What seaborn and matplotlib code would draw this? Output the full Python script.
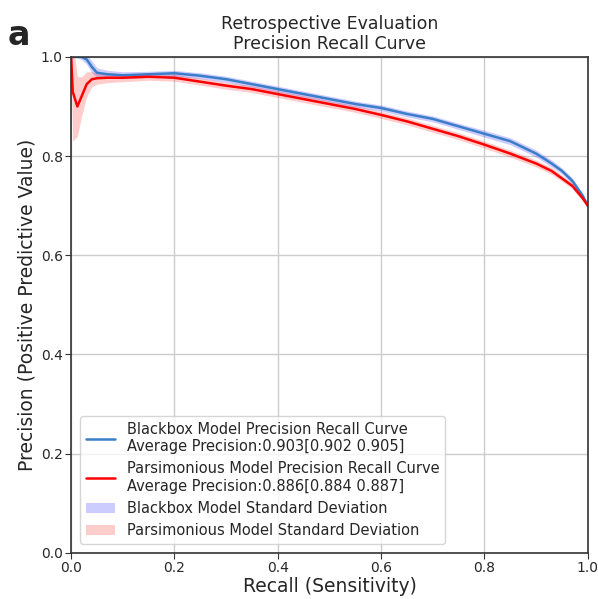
import numpy as np
import pandas as pd
import matplotlib
matplotlib.use('Agg')
import matplotlib.pyplot as plt
import seaborn as sns

# recall grid
recall = [0.0, 0.003, 0.012, 0.02, 0.03, 0.04, 0.05, 0.07, 0.1, 0.15, 0.2, 0.25, 0.3, 0.35,
          0.4, 0.45, 0.5, 0.55, 0.6, 0.65, 0.7, 0.75, 0.8, 0.85, 0.9, 0.93, 0.95, 0.97, 0.99, 1.0]
# blackbox model mean precision and std
blackbox = [1.0, 1.0, 1.0, 1.0, 0.995, 0.98, 0.968, 0.965, 0.963, 0.965, 0.967, 0.962, 0.955, 0.945,
            0.935, 0.925, 0.915, 0.905, 0.897, 0.885, 0.875, 0.86, 0.845, 0.83, 0.805, 0.785, 0.77, 0.75, 0.72, 0.70]
blackbox_sd = [0.0, 0.0, 0.002, 0.005, 0.01, 0.012, 0.01, 0.008, 0.007, 0.006, 0.006, 0.006, 0.006, 0.006,
               0.006, 0.006, 0.006, 0.006, 0.006, 0.006, 0.006, 0.006, 0.007, 0.007, 0.007, 0.007, 0.006, 0.006, 0.005, 0.004]
# parsimonious model mean precision and std
parsimonious = [1.0, 0.93, 0.9, 0.92, 0.945, 0.955, 0.957, 0.958, 0.958, 0.96, 0.958, 0.95, 0.942, 0.935,
                0.925, 0.915, 0.905, 0.895, 0.883, 0.87, 0.855, 0.84, 0.823, 0.805, 0.785, 0.77, 0.755, 0.74, 0.715, 0.70]
parsimonious_sd = [0.0, 0.1, 0.06, 0.04, 0.025, 0.015, 0.012, 0.01, 0.008, 0.007, 0.007, 0.007, 0.007, 0.007,
                   0.007, 0.007, 0.007, 0.007, 0.007, 0.007, 0.007, 0.007, 0.007, 0.007, 0.007, 0.007, 0.006, 0.006, 0.005, 0.004]

labels = ['Blackbox Model Precision Recall Curve\nAverage Precision:0.903[0.902 0.905]',
          'Parsimonious Model Precision Recall Curve\nAverage Precision:0.886[0.884 0.887]',
          'Blackbox Model Standard Deviation',
          'Parsimonious Model Standard Deviation']

sns.set_style('whitegrid')
plt.rcParams['font.family'] = ['DejaVu Sans']

df = pd.DataFrame({'recall': recall, 'bb': blackbox, 'bb_sd': blackbox_sd,
                   'pm': parsimonious, 'pm_sd': parsimonious_sd})

fig = plt.figure(figsize=(5.98, 5.99), dpi=100)
ax = fig.add_axes([0.119, 0.077, 0.864, 0.828])

sns.lineplot(data=df, x='recall', y='bb', color='#3a7dc9', lw=1.8, ax=ax, label=labels[0])
sns.lineplot(data=df, x='recall', y='pm', color='red', lw=1.8, ax=ax, label=labels[1])
ax.fill_between(df['recall'], df['bb'] - df['bb_sd'], df['bb'] + df['bb_sd'],
                color='blue', alpha=0.2, lw=0, label=labels[2])
ax.fill_between(df['recall'], df['pm'] - df['pm_sd'], df['pm'] + df['pm_sd'],
                color='red', alpha=0.2, lw=0, label=labels[3])

ax.set_xlim(0, 1)
ax.set_ylim(0, 1)
ax.set_xticks(np.arange(0, 1.01, 0.2))
ax.set_yticks(np.arange(0, 1.01, 0.2))
ax.tick_params(labelsize=10, length=4, pad=2, color='#333333', left=True, bottom=True)
for s in ax.spines.values():
    s.set_color('#333333')
    s.set_linewidth(1.2)
ax.grid(color='#cccccc', lw=1)

ax.set_xlabel('Recall (Sensitivity)', fontsize=13.5, labelpad=1)
ax.set_ylabel('Precision (Positive Predictive Value)', fontsize=13.5, labelpad=3)
ax.set_title('Retrospective Evaluation\nPrecision Recall Curve', fontsize=12.5, linespacing=1.1)
fig.text(0.012, 0.925, 'a', fontsize=24, fontweight='bold')

ax.legend(loc='lower left', fontsize=10.5, frameon=True, framealpha=0.8, handlelength=2,
          borderaxespad=0.6)

fig.savefig('out.png', dpi=100)
